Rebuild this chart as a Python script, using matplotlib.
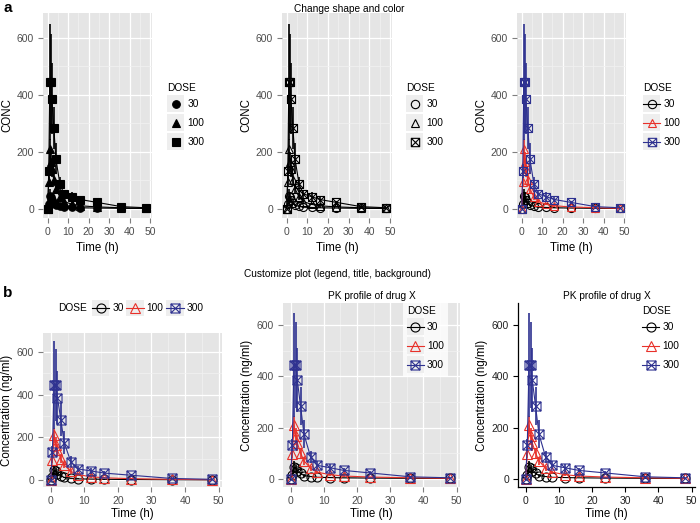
import matplotlib
matplotlib.use("Agg")
import matplotlib.pyplot as plt
from matplotlib.lines import Line2D
from matplotlib.patches import Rectangle
from matplotlib.path import Path
from matplotlib.legend_handler import HandlerLine2D
from matplotlib.ticker import MultipleLocator

plt.rcParams['font.family'] = ['Liberation Sans', 'DejaVu Sans']

# ---------------- data ----------------
times = [0, 0.5, 1, 1.5, 2, 3, 4, 6, 8, 12, 16, 24, 36, 48]
doses = ["30", "100", "300"]
conc_30 = [0, 15, 45, 40, 30, 20, 12, 8, 5, 4, 3, 2, 1, 0.5]
conc_100 = [0, 95, 210, 165, 140, 100, 70, 40, 25, 15, 10, 6, 3, 1]
conc_300 = [0, 132, 445, 445, 386, 283, 175, 85, 52, 42, 32, 22, 7, 3]
sd_30 = [0, 5, 25, 15, 10, 6, 4, 3, 2, 1.5, 1, 0.5, 0.3, 0.2]
sd_100 = [0, 15, 35, 35, 30, 20, 15, 10, 6, 4, 3, 2, 1, 0.5]
sd_300 = [0, 25, 205, 170, 125, 75, 55, 25, 15, 15, 8, 6, 3, 1]
x_ticks = [0, 10, 20, 30, 40, 50]
y_ticks = [0, 200, 400, 600]

means = [conc_30, conc_100, conc_300]
sds = [sd_30, sd_100, sd_300]

# ---------------- styles ----------------
BG = '#E5E5E5'
KEYBG = '#EEEEEE'
RED = '#E8312A'
BLUE = '#2E3190'
TICKC = '#4D4D4D'
FS_TICK = 7.5
FS_LAB = 8.3
FS_LEG = 7.3
FS_TITLE = 7.3

v = [(-1, -1), (1, -1), (1, 1), (-1, 1), (-1, -1),
     (-1, -1), (1, 1), (-1, 1), (1, -1)]
c = [Path.MOVETO, Path.LINETO, Path.LINETO, Path.LINETO, Path.CLOSEPOLY,
     Path.MOVETO, Path.LINETO, Path.MOVETO, Path.LINETO]
SQX = Path(v, c)


class KeyBG(HandlerLine2D):
    def __init__(self, bg=None, **kw):
        super().__init__(**kw)
        self.bg = bg

    def create_artists(self, legend, orig_handle, xdescent, ydescent,
                       width, height, fontsize, trans):
        arts = super().create_artists(legend, orig_handle, xdescent, ydescent,
                                      width, height, fontsize, trans)
        arts = list(arts)
        # centre the key glyph vertically in the key box
        for a in arts:
            if isinstance(a, Line2D):
                yd = a.get_ydata()
                a.set_ydata([(height / 2.0) - ydescent] * len(yd))
        if self.bg:
            r = Rectangle((-xdescent, -ydescent), width, height,
                          facecolor=self.bg, edgecolor='none', transform=trans)
            arts = [r] + arts
        return arts


fig = plt.figure(figsize=(7, 5.23), dpi=100)
W, H = 700.0, 523.0


def axes_px(x0, y0, x1, y1):
    return fig.add_axes([x0 / W, 1 - y1 / H, (x1 - x0) / W, (y1 - y0) / H])


def style_axes(ax, classic=False, ylabel='CONC', xpad=3.5):
    ax.set_xlim(-2.3, 51)
    ax.set_ylim(-33, 688)
    ax.set_xticks(x_ticks)
    ax.set_yticks(y_ticks)
    if classic:
        ax.set_facecolor('white')
        for s in ['top', 'right']:
            ax.spines[s].set_visible(False)
        for s in ['left', 'bottom']:
            ax.spines[s].set_color('black')
            ax.spines[s].set_linewidth(0.9)
        ax.tick_params(length=3.5, width=0.8, color='black', labelcolor='#222222',
                       labelsize=FS_TICK, pad=3)
    else:
        ax.set_facecolor(BG)
        for s in ax.spines.values():
            s.set_visible(False)
        ax.xaxis.set_minor_locator(MultipleLocator(5))
        ax.yaxis.set_minor_locator(MultipleLocator(100))
        ax.grid(True, which='major', color='white', lw=0.9)
        ax.grid(True, which='minor', color='#F2F2F2', lw=0.5)
        ax.tick_params(which='minor', length=0)
        ax.tick_params(which='major', length=3.5, width=0.8, color='#7F7F7F',
                       labelcolor=TICKC, labelsize=FS_TICK, pad=3)
    ax.set_axisbelow(True)
    ax.set_xlabel('Time (h)', fontsize=FS_LAB, labelpad=xpad)
    ax.set_ylabel(ylabel, fontsize=FS_LAB, labelpad=2.5)


def draw(ax, colors, markers, mfcs, ms, mew=0.8):
    for i in range(3):
        ax.errorbar(times, means[i], yerr=sds[i], color=colors[i], lw=0.8,
                    elinewidth=1.2, capsize=0, marker=markers[i], ms=ms,
                    mfc=mfcs[i], mec=colors[i], mew=mew, zorder=2 + i)


def handles(colors, markers, mfcs, ms, line=True, mew=0.8):
    return [Line2D([], [], color=colors[i], lw=0.8 if line else 0,
                   ls='-' if line else 'none', marker=markers[i], ms=ms,
                   mfc=mfcs[i], mec=colors[i], mew=mew) for i in range(3)]


def add_legend(hs, anchor_px, keybg=KEYBG, frame=None, ncol=1, title='DOSE',
               loc='upper left', borderpad=0.0):
    leg = fig.legend(hs, doses, title=title, loc=loc,
                     bbox_to_anchor=(anchor_px[0] / W, 1 - anchor_px[1] / H),
                     bbox_transform=fig.transFigure, ncol=ncol,
                     fontsize=FS_LEG, title_fontsize=FS_LEG, handlelength=1.68,
                     handleheight=2.2, handletextpad=0.3, labelspacing=0.2,
                     borderpad=borderpad, borderaxespad=0, columnspacing=0.3,
                     frameon=frame is not None, alignment='left',
                     handler_map={Line2D: KeyBG(bg=keybg)})
    if frame is not None:
        leg.get_frame().set_facecolor(frame)
        leg.get_frame().set_edgecolor('none')
        leg.get_frame().set_boxstyle('square', pad=0)
    return leg


black3 = ['black', 'black', 'black']
col3 = ['black', RED, BLUE]

# ---------------- row a ----------------
a1 = axes_px(43, 13, 152, 218)
style_axes(a1)
draw(a1, black3, ['o', '^', 's'], black3, 5.4)
add_legend(handles(black3, ['o', '^', 's'], black3, 5.5, line=False), (167, 83))

a2 = axes_px(282, 13, 392, 218)
style_axes(a2)
draw(a2, black3, ['o', '^', SQX], ['none'] * 3, 5.8)
add_legend(handles(black3, ['o', '^', SQX], ['none'] * 3, 6, line=False), (406, 83))

a3 = axes_px(517, 13, 626, 218)
style_axes(a3)
draw(a3, col3, ['o', '^', SQX], ['none'] * 3, 5.8)
add_legend(handles(col3, ['o', '^', SQX], ['none'] * 3, 6), (643, 83))

fig.text(349 / W, 1 - 9 / H, 'Change shape and color', ha='center', va='center',
         fontsize=FS_TITLE)
fig.text(3 / W, 1 - 8 / H, 'a', ha='left', va='center', fontsize=11, fontweight='bold')

# ---------------- row b ----------------
fig.text(337 / W, 1 - 274 / H, 'Customize plot (legend, title, background)',
         ha='center', va='center', fontsize=FS_TITLE)
fig.text(3 / W, 1 - 293 / H, 'b', ha='left', va='center', fontsize=11, fontweight='bold')

ylab = 'Concentration (ng/ml)'
b1 = axes_px(43, 333, 222, 487)
style_axes(b1, ylabel=ylab, xpad=1.5)
draw(b1, col3, ['o', '^', SQX], ['none'] * 3, 6.5)
fig.text(58 / W, 1 - 308 / H, 'DOSE', ha='left', va='center', fontsize=FS_LEG)
add_legend(handles(col3, ['o', '^', SQX], ['none'] * 3, 6.5), (92, 308),
           title=None, ncol=3, loc='center left')

b2 = axes_px(283, 303, 460, 487)
style_axes(b2, ylabel=ylab, xpad=1.5)
draw(b2, col3, ['o', '^', SQX], ['none'] * 3, 6.5)
b2.set_title('PK profile of drug X', fontsize=FS_TITLE, pad=3)
add_legend(handles(col3, ['o', '^', SQX], ['none'] * 3, 6.5), (448, 302),
           frame='white', loc='upper right', borderpad=0.4)

b3 = axes_px(518, 303, 695, 487)
style_axes(b3, classic=True, ylabel=ylab, xpad=1.5)
draw(b3, col3, ['o', '^', SQX], ['none'] * 3, 6.5)
b3.set_title('PK profile of drug X', fontsize=FS_TITLE, pad=3)
add_legend(handles(col3, ['o', '^', SQX], ['none'] * 3, 6.5), (642, 306),
           keybg=None)

fig.savefig('out.png', dpi=100)
